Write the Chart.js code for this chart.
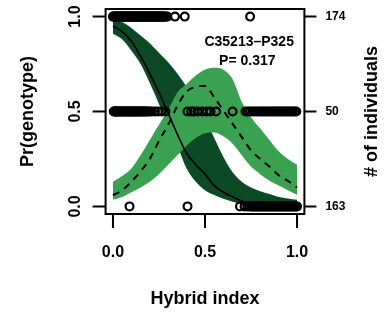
<!DOCTYPE html>
<html>
<head>
<meta charset="utf-8">
<script src="https://cdn.jsdelivr.net/npm/chart.js@4/dist/chart.umd.min.js"></script>
<style>
  html, body { margin: 0; padding: 0; background: #fff; }
  #wrap { width: 385px; height: 315px; }
</style>
</head>
<body>
<div id="wrap"><canvas id="c" width="385" height="315"></canvas></div>
<script>
// Hybrid index grid for the fitted clines
const hybridIndex = [0, 0.05, 0.1, 0.15, 0.2, 0.25, 0.3, 0.35, 0.4, 0.45, 0.5, 0.55, 0.6, 0.65, 0.7, 0.75, 0.8, 0.85, 0.9, 0.95, 1.0];

// Homozygous (parent 1) cline: mean and 95% band (dark green, solid line)
const homoMean  = [0.95, 0.92, 0.87, 0.79, 0.70, 0.60, 0.49, 0.38, 0.28, 0.22, 0.17, 0.11, 0.075, 0.05, 0.028, 0.012, 0.005, 0.002, 0.001, 0, 0];
const homoUpper = [0.98, 0.97, 0.94, 0.90, 0.86, 0.81, 0.76, 0.70, 0.63, 0.55, 0.46, 0.36, 0.26, 0.18, 0.13, 0.10, 0.08, 0.065, 0.05, 0.042, 0.035];
const homoLower = [0.91, 0.88, 0.82, 0.75, 0.65, 0.54, 0.43, 0.32, 0.20, 0.13, 0.085, 0.06, 0.04, 0.025, 0.012, 0.005, 0.002, 0, 0, 0, 0];

// Heterozygous cline: mean and 95% band (light green, dashed line)
const hetMean  = [0.06, 0.085, 0.13, 0.185, 0.25, 0.345, 0.43, 0.53, 0.605, 0.63, 0.635, 0.575, 0.505, 0.435, 0.365, 0.295, 0.25, 0.21, 0.165, 0.135, 0.10];
const hetUpper = [0.13, 0.16, 0.20, 0.27, 0.35, 0.43, 0.51, 0.60, 0.645, 0.69, 0.72, 0.73, 0.72, 0.67, 0.55, 0.47, 0.41, 0.35, 0.29, 0.25, 0.22];
const hetLower = [0.035, 0.05, 0.075, 0.10, 0.13, 0.17, 0.22, 0.27, 0.32, 0.36, 0.385, 0.39, 0.37, 0.33, 0.27, 0.21, 0.17, 0.135, 0.11, 0.085, 0.06];

// Observed individuals: hybrid index of each, by genotype class
const obsGenotype1 = [0.000, 0.004, 0.008, 0.012, 0.016, 0.020, 0.024, 0.028, 0.032, 0.036, 0.040, 0.044, 0.048, 0.052, 0.056, 0.060, 0.064, 0.068, 0.072, 0.076, 0.080, 0.084, 0.088, 0.092, 0.096, 0.100, 0.104, 0.108, 0.112, 0.116, 0.120, 0.124, 0.128, 0.132, 0.136, 0.140, 0.144, 0.148, 0.152, 0.156, 0.160, 0.164, 0.168, 0.172, 0.176, 0.180, 0.184, 0.188, 0.192, 0.196, 0.200, 0.204, 0.208, 0.212, 0.216, 0.220, 0.224, 0.228, 0.232, 0.236, 0.240, 0.244, 0.248, 0.252, 0.256, 0.260, 0.264, 0.268, 0.272, 0.276, 0.281, 0.287, 0.295, 0.337, 0.390, 0.745];
const obsGenotypeHet = [0.004, 0.008, 0.012, 0.016, 0.020, 0.024, 0.028, 0.032, 0.036, 0.040, 0.045, 0.050, 0.055, 0.060, 0.065, 0.070, 0.075, 0.080, 0.085, 0.090, 0.095, 0.100, 0.105, 0.110, 0.115, 0.120, 0.125, 0.130, 0.135, 0.140, 0.145, 0.150, 0.155, 0.160, 0.166, 0.172, 0.178, 0.185, 0.192, 0.200, 0.212, 0.228, 0.245, 0.265, 0.285, 0.405, 0.425, 0.440, 0.460, 0.485, 0.510, 0.530, 0.560, 0.650, 0.720, 0.732, 0.745, 0.757, 0.770, 0.782, 0.795, 0.805, 0.815, 0.826, 0.838, 0.848, 0.858, 0.868, 0.878, 0.888, 0.898, 0.908, 0.918, 0.928, 0.938, 0.948, 0.958, 0.968, 0.978, 0.988, 0.996];
const obsGenotype0 = [0.090, 0.405, 0.690, 0.715, 0.730, 0.742, 0.750, 0.756, 0.762, 0.768, 0.774, 0.780, 0.786, 0.792, 0.798, 0.804, 0.810, 0.816, 0.822, 0.828, 0.834, 0.840, 0.846, 0.852, 0.858, 0.864, 0.870, 0.876, 0.882, 0.888, 0.894, 0.900, 0.906, 0.912, 0.918, 0.924, 0.930, 0.936, 0.942, 0.948, 0.954, 0.960, 0.966, 0.972, 0.978, 0.984, 0.990, 0.995, 1.000];

// Axis ticks and labels
const xTicks = [0, 0.5, 1];
const xTickLabels = ['0.0', '0.5', '1.0'];
const yTicks = [0, 0.5, 1];
const yTickLabels = ['0.0', '0.5', '1.0'];
const countTicks = [1, 0.5, 0];
const countLabels = ['174', '50', '163'];
const xTitle = 'Hybrid index';
const yTitle = 'Pr(genotype)';
const countTitle = '# of individuals';
const markerName = 'C35213\u2013P325';
const markerP = 'P= 0.317';

const DARK = 'rgb(12, 74, 38)';
const LIGHT = 'rgb(58, 161, 80)';
const FONT = '"Liberation Sans", Arial, Helvetica, sans-serif';

const curve = (ys) => hybridIndex.map((x, i) => ({ x: x, y: ys[i] }));
const row = (xs, yv) => xs.map(x => ({ x: x, y: yv }));

const rAxes = {
  id: 'rAxes',
  afterDraw(chart) {
    const { ctx, chartArea: a, scales: { x, y } } = chart;
    ctx.save();
    ctx.strokeStyle = '#000';
    ctx.lineWidth = 2;
    ctx.strokeRect(a.left, a.top, a.right - a.left, a.bottom - a.top);
    ctx.beginPath();
    xTicks.forEach(v => {
      const px = x.getPixelForValue(v);
      ctx.moveTo(px, a.bottom); ctx.lineTo(px, a.bottom + 14);
    });
    yTicks.forEach(v => {
      const py = y.getPixelForValue(v);
      ctx.moveTo(a.left, py); ctx.lineTo(a.left - 13, py);
    });
    countTicks.forEach(v => {
      const py = y.getPixelForValue(v);
      ctx.moveTo(a.right, py); ctx.lineTo(a.right + 12, py);
    });
    ctx.stroke();

    ctx.fillStyle = '#000';
    ctx.textBaseline = 'middle';
    // x tick labels
    ctx.font = 'bold 16px ' + FONT;
    ctx.textAlign = 'center';
    xTicks.forEach((v, i) => ctx.fillText(xTickLabels[i], x.getPixelForValue(v), a.bottom + 39));
    // y tick labels (rotated)
    yTicks.forEach((v, i) => {
      ctx.save();
      ctx.translate(a.left - 30, y.getPixelForValue(v));
      ctx.rotate(-Math.PI / 2);
      ctx.fillText(yTickLabels[i], 0, 0);
      ctx.restore();
    });
    // right count labels
    ctx.font = 'bold 12px ' + FONT;
    ctx.textAlign = 'left';
    countTicks.forEach((v, i) => ctx.fillText(countLabels[i], a.right + 21, y.getPixelForValue(v)));
    // titles
    ctx.font = 'bold 18px ' + FONT;
    ctx.textAlign = 'center';
    ctx.fillText(xTitle, (a.left + a.right) / 2, a.bottom + 85);
    ctx.save();
    ctx.translate(28, (a.top + a.bottom) / 2);
    ctx.rotate(-Math.PI / 2);
    ctx.fillText(yTitle, 0, 0);
    ctx.restore();
    ctx.save();
    ctx.translate(a.right + 68, (a.top + a.bottom) / 2);
    ctx.rotate(-Math.PI / 2);
    ctx.fillText(countTitle, 0, 0);
    ctx.restore();
    // marker annotation
    ctx.font = 'bold 14px ' + FONT;
    ctx.fillText(markerName, x.getPixelForValue(0.74), y.getPixelForValue(0.865));
    ctx.fillText(markerP, x.getPixelForValue(0.73), y.getPixelForValue(0.765));
    ctx.restore();
  }
};

const bandBase = { pointRadius: 0, borderWidth: 0, borderColor: 'rgba(0,0,0,0)', cubicInterpolationMode: 'monotone' };
const pointBase = { showLine: false, pointRadius: 3.9, pointHoverRadius: 3.9, pointBorderWidth: 2.2, borderColor: '#000', pointBorderColor: '#000', backgroundColor: 'rgba(0,0,0,0)', pointBackgroundColor: 'rgba(0,0,0,0)', order: 0 };

new Chart(document.getElementById('c'), {
  type: 'line',
  data: {
    datasets: [
      Object.assign({}, bandBase, { data: curve(homoUpper), fill: { target: 1 }, backgroundColor: DARK, order: 6 }),
      Object.assign({}, bandBase, { data: curve(homoLower), fill: false, order: 5 }),
      Object.assign({}, bandBase, { data: curve(hetUpper), fill: { target: 3 }, backgroundColor: LIGHT, order: 4 }),
      Object.assign({}, bandBase, { data: curve(hetLower), fill: false, order: 3 }),
      { data: curve(homoMean), borderColor: '#000', borderWidth: 1.7, pointRadius: 0, fill: false, cubicInterpolationMode: 'monotone', order: 2 },
      { data: curve(hetMean), borderColor: '#000', borderWidth: 2, borderDash: [7, 6], pointRadius: 0, fill: false, cubicInterpolationMode: 'monotone', order: 1 },
      Object.assign({}, pointBase, { data: row(obsGenotype1, 1) }),
      Object.assign({}, pointBase, { data: row(obsGenotypeHet, 0.5) }),
      Object.assign({}, pointBase, { data: row(obsGenotype0, 0) })
    ]
  },
  options: {
    responsive: false,
    animation: false,
    events: [],
    layout: { padding: { left: 105.6, right: 80.6, top: 9, bottom: 101 } },
    scales: {
      x: { type: 'linear', min: -0.04, max: 1.04, display: false },
      y: { type: 'linear', min: -0.04, max: 1.04, display: false }
    },
    plugins: { legend: { display: false }, tooltip: { enabled: false } }
  },
  plugins: [rAxes]
});
</script>
</body>
</html>
